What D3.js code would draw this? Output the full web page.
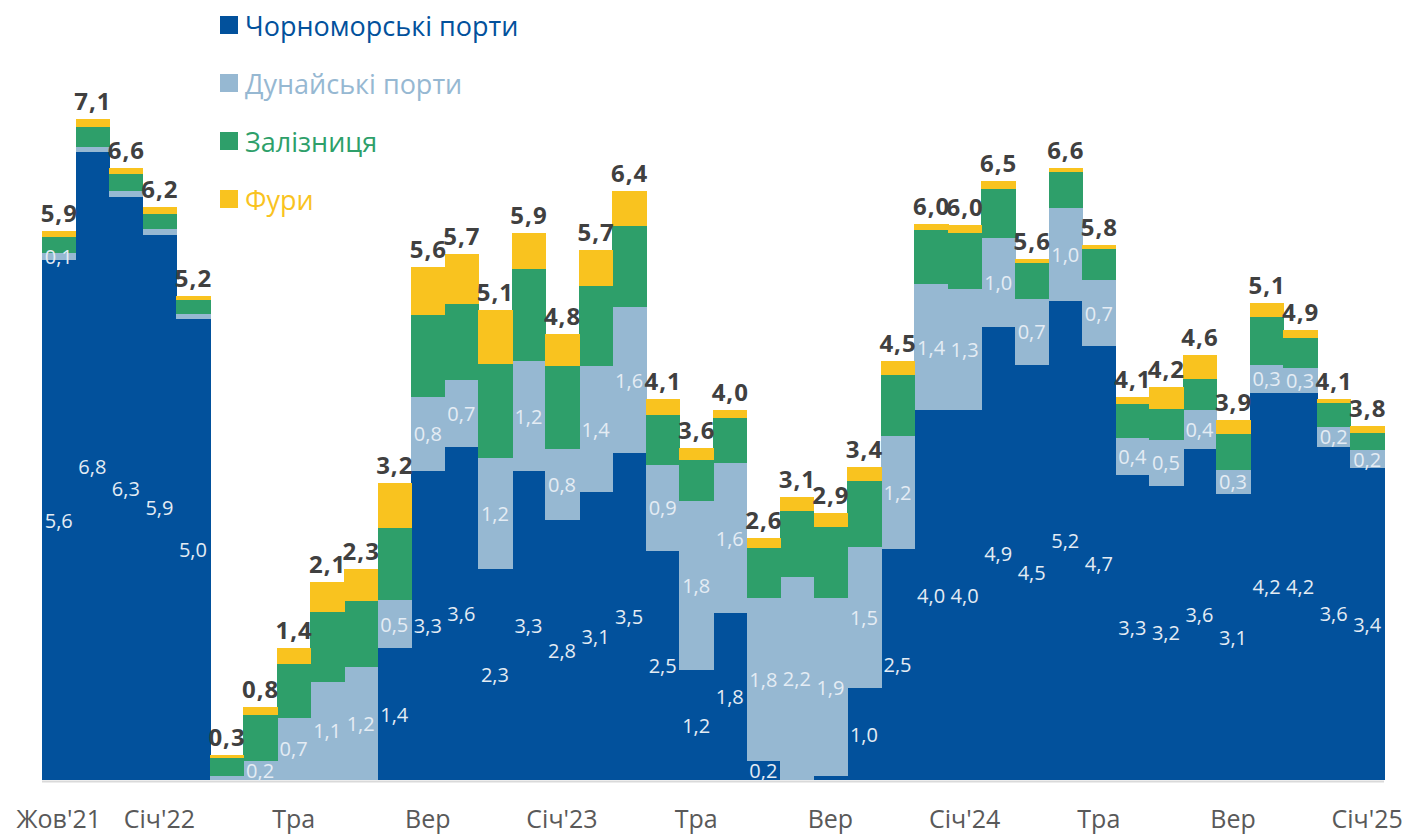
<!DOCTYPE html>
<html lang="uk">
<head>
<meta charset="UTF-8">
<title>Експорт за маршрутами</title>
<script src="https://d3js.org/d3.v7.min.js"></script>
<style>
  body { margin: 0; background: #ffffff; }
  svg { display: block; font-family: "Open Sans", "Noto Sans", sans-serif; }
  .total { font-weight: 700; fill: #404040; font-size: 24px; letter-spacing: 1px; }
  .inner { fill: #e4ecf4; font-size: 20px; }
  .tick-label { fill: #595959; font-size: 25px; }
  .legend-text { font-size: 27px; }
</style>
</head>
<body>
<svg id="chart" width="1409" height="834"></svg>
<script>
// months Oct'21 .. Jan'25, only some are labelled on the axis
const monthLabels = [
  "Жов'21", "", "", "Січ'22", "", "", "", "Тра", "", "", "", "Вер",
  "", "", "", "Січ'23", "", "", "", "Тра", "", "", "", "Вер",
  "", "", "", "Січ'24", "", "", "", "Тра", "", "", "", "Вер",
  "", "", "", "Січ'25"
];

const seriesNames = ["Чорноморські порти", "Дунайські порти", "Залізниця", "Фури"];
const seriesColors = ["#02519c", "#96b8d2", "#2e9f6a", "#f9c31f"];

// values in mln t
const blackSea = [5.6, 6.76, 6.28, 5.87, 4.96, 0, 0, 0, 0, 0, 1.42, 3.33, 3.59, 2.27, 3.33, 2.8, 3.1, 3.52, 2.47, 1.18,
  1.8, 0.2, 0, 0.04, 0.99, 2.49, 3.98, 3.98, 4.88, 4.47, 5.16, 4.67, 3.29, 3.17, 3.57, 3.08, 4.17, 4.17, 3.59, 3.36];
const danube = [0.08, 0.06, 0.06, 0.06, 0.06, 0.04, 0.21, 0.67, 1.06, 1.22, 0.52, 0.8, 0.72, 1.2, 1.18, 0.76, 1.36, 1.57, 0.92, 1.82,
  1.61, 1.76, 2.19, 1.92, 1.52, 1.22, 1.36, 1.31, 0.96, 0.71, 1.0, 0.71, 0.39, 0.49, 0.41, 0.26, 0.3, 0.27, 0.21, 0.19];
const railway = [0.17, 0.21, 0.19, 0.17, 0.15, 0.2, 0.49, 0.58, 0.75, 0.71, 0.77, 0.88, 0.82, 1.01, 0.99, 0.9, 0.86, 0.88, 0.54, 0.45,
  0.49, 0.54, 0.71, 0.77, 0.71, 0.65, 0.58, 0.6, 0.52, 0.39, 0.39, 0.34, 0.37, 0.34, 0.34, 0.39, 0.52, 0.32, 0.26, 0.19];
const trucks = [0.06, 0.09, 0.06, 0.07, 0.04, 0.03, 0.09, 0.17, 0.32, 0.34, 0.49, 0.52, 0.54, 0.58, 0.39, 0.34, 0.39, 0.37, 0.17, 0.13,
  0.09, 0.11, 0.15, 0.15, 0.15, 0.15, 0.07, 0.09, 0.09, 0.04, 0.04, 0.04, 0.07, 0.23, 0.26, 0.15, 0.15, 0.09, 0.04, 0.07];
const totals = [5.9, 7.1, 6.6, 6.2, 5.2, 0.3, 0.8, 1.4, 2.1, 2.3, 3.2, 5.6, 5.7, 5.1, 5.9, 4.8, 5.7, 6.4, 4.1, 3.6,
  4.0, 2.6, 3.1, 2.9, 3.4, 4.5, 6.0, 6.0, 6.5, 5.6, 6.6, 5.8, 4.1, 4.2, 4.6, 3.9, 5.1, 4.9, 4.1, 3.8];

const svg = d3.select("#chart");
const keys = ["blackSea", "danube", "railway", "trucks"];
const table = monthLabels.map((m, i) => ({
  i: i, month: m,
  blackSea: blackSea[i], danube: danube[i], railway: railway[i], trucks: trucks[i], total: totals[i]
}));

const x = d3.scaleBand().domain(d3.range(table.length)).range([42, 1384]).padding(0);
const y = d3.scaleLinear().domain([0, 8.4]).range([780, 0]);

const stacked = d3.stack().keys(keys)(table);
const fmt = v => d3.format(".1f")(v).replace(".", ",");

// bars
svg.append("g").selectAll("g")
  .data(stacked)
  .join("g")
    .attr("fill", (d, k) => seriesColors[k])
  .selectAll("rect")
  .data(d => d)
  .join("rect")
    .attr("x", d => x(d.data.i))
    .attr("width", x.bandwidth() + 0.8)
    .attr("y", d => y(d[1]))
    .attr("height", d => Math.max(0, y(d[0]) - y(d[1])))
    .attr("shape-rendering", "crispEdges");

// axis line
svg.append("line")
  .attr("x1", 42).attr("x2", 1384)
  .attr("y1", y(0) + 1.5).attr("y2", y(0) + 1.5)
  .attr("stroke", "#d9d9d9").attr("stroke-width", 2);

// value labels inside the two port segments
const inner = stacked.slice(0, 2).flatMap(s => s.map(d => ({ v: d[1] - d[0], y0: d[0], y1: d[1], i: d.data.i })));
svg.append("g").selectAll("text")
  .data(inner.filter(d => d.v >= 0.075))
  .join("text")
    .attr("class", "inner")
    .attr("text-anchor", "middle")
    .attr("dominant-baseline", "central")
    .attr("x", d => x(d.i) + x.bandwidth() / 2)
    .attr("y", d => (y(d.y0) + y(d.y1)) / 2)
    .text(d => fmt(d.v));

// totals on top
const topLayer = stacked[stacked.length - 1];
svg.append("g").selectAll("text")
  .data(topLayer)
  .join("text")
    .attr("class", "total")
    .attr("text-anchor", "middle")
    .attr("x", d => x(d.data.i) + x.bandwidth() / 2 + 0.5)
    .attr("y", d => y(d[1]) - 9)
    .text(d => fmt(d.data.total));

// x labels
svg.append("g").selectAll("text")
  .data(table.filter(d => d.month))
  .join("text")
    .attr("class", "tick-label")
    .attr("text-anchor", "middle")
    .attr("x", d => x(d.i) + x.bandwidth() / 2)
    .attr("y", 828)
    .text(d => d.month);

// legend
const legend = svg.append("g").attr("transform", "translate(220, 25)");
const item = legend.selectAll("g")
  .data(seriesNames)
  .join("g")
    .attr("transform", (d, k) => `translate(0, ${k * 58})`);
item.append("rect")
  .attr("x", 0).attr("y", -9).attr("width", 18).attr("height", 18)
  .attr("fill", (d, k) => seriesColors[k]);
item.append("text")
  .attr("class", "legend-text")
  .attr("x", 25).attr("y", 0)
  .attr("dominant-baseline", "central")
  .attr("fill", (d, k) => seriesColors[k])
  .text(d => d);
</script>
</body>
</html>
